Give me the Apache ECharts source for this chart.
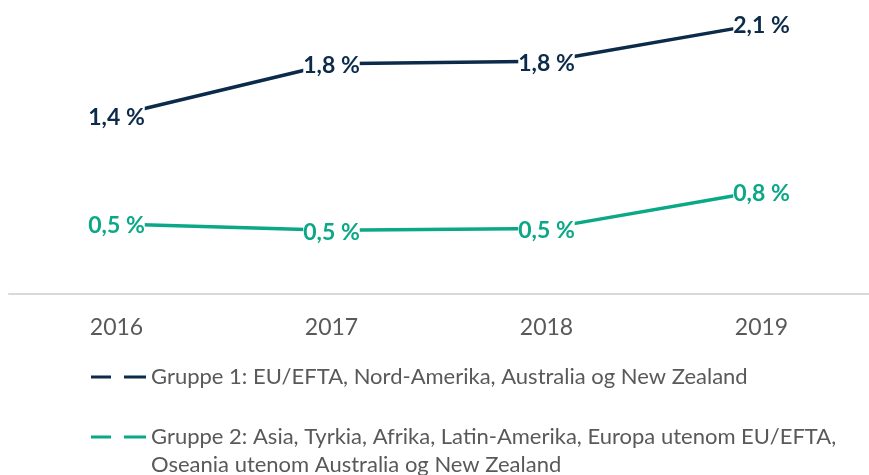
<!DOCTYPE html>
<html>
<head>
<meta charset="utf-8">
<script src="https://cdn.jsdelivr.net/npm/echarts@6/dist/echarts.min.js"></script>
<style>
  html, body { margin: 0; padding: 0; background: #fff; }
  #chart { width: 869px; height: 475px; }
</style>
</head>
<body>
<div id="chart"></div>
<script>
const years = ['2016', '2017', '2018', '2019'];
const group1Name = 'Gruppe 1: EU/EFTA, Nord-Amerika, Australia og New Zealand';
const group2Name = 'Gruppe 2: Asia, Tyrkia, Afrika, Latin-Amerika, Europa utenom EU/EFTA, Oseania utenom Australia og New Zealand';
const group1 = [1.39, 1.79, 1.81, 2.1];
const group2 = [0.545, 0.495, 0.51, 0.8];

// legend text as it wraps in the reference (blank first line keeps the icon on line one)
const legendText = {
  [group1Name]: group1Name,
  [group2Name]: '\nGruppe 2: Asia, Tyrkia, Afrika, Latin-Amerika, Europa utenom EU/EFTA,\nOseania utenom Australia og New Zealand',
};

const navy = '#0c2b4b';
const teal = '#0aa886';

const fmt = (p) => p.value.toFixed(1).replace('.', ',') + ' %';

const labelStyle = (color) => ({
  show: true,
  position: 'inside',
  formatter: fmt,
  color: color,
  fontFamily: 'Lato',
  fontWeight: 'bold',
  fontSize: 23,
  backgroundColor: '#fff',
  padding: [0, 0, 0, 0],
  offset: [0, 2],
});

const legendBase = {
  orient: 'vertical',
  left: 86,
  itemWidth: 55,
  itemHeight: 3,
  icon: 'path://M0,0h20v3h-20z M33,0h22v3h-22z',
  formatter: (name) => legendText[name],
  selectedMode: false,
  textStyle: { color: '#595959', fontFamily: 'Lato', fontSize: 22, lineHeight: 28 },
};

const chart = echarts.init(document.getElementById('chart'));
chart.setOption({
  animation: false,
  grid: { left: 9, width: 871, top: 11, bottom: 181 },
  xAxis: {
    type: 'category',
    data: years,
    boundaryGap: true,
    axisLine: { lineStyle: { color: '#d9d9d9', width: 2 } },
    axisTick: { show: false },
    axisLabel: {
      color: '#595959',
      fontFamily: 'Lato',
      fontSize: 23,
      margin: 22,
    },
  },
  yAxis: {
    type: 'value',
    min: 0,
    max: 2.2,
    show: false,
    splitLine: { show: false },
  },
  legend: [
    Object.assign({}, legendBase, { top: 358, data: [group1Name] }),
    Object.assign({}, legendBase, { top: 390, data: [group2Name] }),
  ],
  series: [
    {
      name: group1Name,
      type: 'line',
      data: group1,
      symbol: 'circle',
      symbolSize: 1,
      color: navy,
      lineStyle: { color: navy, width: 3.5 },
      label: labelStyle(navy),
    },
    {
      name: group2Name,
      type: 'line',
      data: group2,
      symbol: 'circle',
      symbolSize: 1,
      color: teal,
      lineStyle: { color: teal, width: 3.5 },
      label: labelStyle(teal),
    },
  ],
});
</script>
</body>
</html>
